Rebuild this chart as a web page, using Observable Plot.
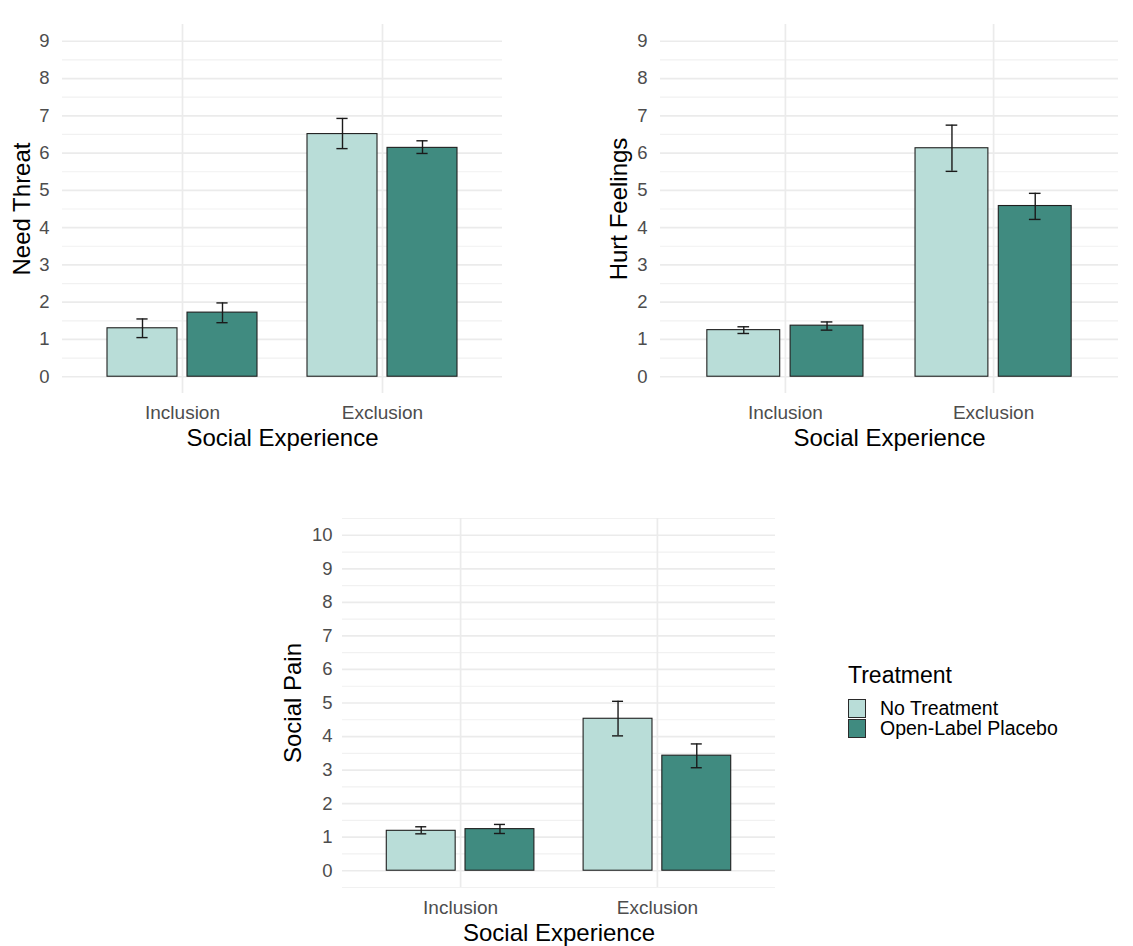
<!DOCTYPE html>
<html>
<head>
<meta charset="utf-8">
<script src="https://cdn.jsdelivr.net/npm/d3@7"></script>
<script src="https://cdn.jsdelivr.net/npm/@observablehq/plot@0.6"></script>
<style>
  html, body { margin: 0; padding: 0; background: #fff; }
  #root { position: relative; width: 1133px; height: 946px; font-family: "Liberation Sans", Arial, sans-serif; }
  .panel { position: absolute; }
  .legend { position: absolute; left: 848px; top: 661px; color: #000; }
  .legend .title { font-size: 23px; line-height: 28px; margin-bottom: 9px; }
  .legend .item { display: flex; align-items: center; height: 20px; font-size: 19.5px; line-height: 20px; }
  .legend .item span.lab { display: inline-block; height: 20px; line-height: 20px; }
  .legend .key { width: 18px; height: 19px; box-sizing: border-box; border: 1px solid #2a2a2a; margin-right: 14px; }
</style>
</head>
<body>
<div id="root"></div>
<script>
// ---- data ----
const socialExperience = ["Inclusion", "Exclusion"];
const treatments = ["No Treatment", "Open-Label Placebo"];
const treatmentColors = ["#b9ddd8", "#408b80"];

// order: Inclusion/No Treatment, Inclusion/OLP, Exclusion/No Treatment, Exclusion/OLP
const needThreatMean  = [1.30, 1.72, 6.51, 6.14];
const needThreatLower = [1.05, 1.45, 6.12, 5.99];
const needThreatUpper = [1.55, 1.98, 6.93, 6.33];

const hurtFeelingsMean  = [1.25, 1.37, 6.13, 4.58];
const hurtFeelingsLower = [1.16, 1.25, 5.51, 4.22];
const hurtFeelingsUpper = [1.34, 1.47, 6.75, 4.92];

const socialPainMean  = [1.19, 1.24, 4.53, 3.43];
const socialPainLower = [1.10, 1.11, 4.02, 3.07];
const socialPainUpper = [1.31, 1.38, 5.05, 3.78];

const ticks9 = [0, 1, 2, 3, 4, 5, 6, 7, 8, 9];
const ticks10 = [0, 1, 2, 3, 4, 5, 6, 7, 8, 9, 10];

// ---- chart ----
const DODGE = 0.4, BARW = 0.35, CAP = 0.028;

function rows(mean, lower, upper) {
  return socialExperience.flatMap((e, i) => treatments.map((t, j) => ({
    experience: e, treatment: t,
    center: i + (j - 0.5) * DODGE,
    mean: mean[i * 2 + j], lower: lower[i * 2 + j], upper: upper[i * 2 + j]
  })));
}

function panel({data, ylabel, yTicks, yDomain, width, height, margins, tickPadX, tickPadY, titleDy, ytitleDx}) {
  const minor = d3.range(Math.ceil(yDomain[0] - 0.5) + 0.5, yDomain[1] + 1e-9, 1).filter(v => v >= yDomain[0] - 1e-9);
  return Plot.plot({
    width, height,
    marginLeft: margins[0], marginRight: margins[1], marginTop: margins[2], marginBottom: margins[3],
    style: { fontFamily: "'Liberation Sans', Arial, sans-serif", fontSize: "18px", background: "white", overflow: "visible" },
    x: { type: "linear", domain: [-0.6, 1.6], label: null },
    y: { domain: yDomain, label: null },
    color: { domain: treatments, range: treatmentColors },
    marks: [
      Plot.ruleY(minor, { stroke: "#f1f1f1", strokeWidth: 1.2 }),
      Plot.ruleY(yTicks, { stroke: "#ebebeb", strokeWidth: 1.7 }),
      Plot.ruleX([0, 1], { stroke: "#ebebeb", strokeWidth: 1.7 }),
      Plot.rect(data, {
        x1: d => d.center - BARW / 2, x2: d => d.center + BARW / 2,
        y1: 0, y2: "mean", fill: "treatment", stroke: "#1f1f1f", strokeWidth: 1.1
      }),
      Plot.ruleX(data, { x: "center", y1: "lower", y2: "upper", stroke: "#1a1a1a", strokeWidth: 1.4 }),
      Plot.ruleY(data, { y: "upper", x1: d => d.center - CAP, x2: d => d.center + CAP, stroke: "#1a1a1a", strokeWidth: 1.4 }),
      Plot.ruleY(data, { y: "lower", x1: d => d.center - CAP, x2: d => d.center + CAP, stroke: "#1a1a1a", strokeWidth: 1.4 }),
      Plot.axisY({ ticks: yTicks, tickSize: 0, tickPadding: tickPadY, label: null, color: "#4d4d4d", fontSize: 18.5, tickFormat: d3.format("d") }),
      Plot.axisX({ ticks: [0, 1], tickSize: 0, tickPadding: tickPadX, label: null, color: "#4d4d4d", fontSize: 19, tickFormat: i => socialExperience[i] }),
      Plot.text(["Social Experience"], { text: d => d, frameAnchor: "bottom", dy: titleDy, fontSize: 24, fill: "#000", textAnchor: "middle", lineAnchor: "middle" }),
      Plot.text([ylabel], { text: d => d, frameAnchor: "left", dx: ytitleDx, rotate: -90, fontSize: 24, fill: "#000", textAnchor: "middle", lineAnchor: "middle" })
    ]
  });
}

const root = document.getElementById("root");
function place(el, left, top) {
  el.classList.add("panel");
  el.style.left = left + "px";
  el.style.top = top + "px";
  root.appendChild(el);
}

place(panel({
  data: rows(needThreatMean, needThreatLower, needThreatUpper), ylabel: "Need Threat",
  yTicks: ticks9, yDomain: [-0.45, 9.45], width: 560, height: 460, margins: [62, 58, 24, 67],
  tickPadX: 12, tickPadY: 13, titleDy: 45, ytitleDx: -40
}), 0, 0);

place(panel({
  data: rows(hurtFeelingsMean, hurtFeelingsLower, hurtFeelingsUpper), ylabel: "Hurt Feelings",
  yTicks: ticks9, yDomain: [-0.45, 9.45], width: 540, height: 460, margins: [70, 12, 24, 67],
  tickPadX: 12, tickPadY: 13, titleDy: 45, ytitleDx: -41
}), 590, 0);

place(panel({
  data: rows(socialPainMean, socialPainLower, socialPainUpper), ylabel: "Social Pain",
  yTicks: ticks10, yDomain: [-0.5, 10.5], width: 560, height: 446, margins: [72, 55, 18, 59],
  tickPadX: 13, tickPadY: 10, titleDy: 46, ytitleDx: -49
}), 270, 500);

// legend
const legend = document.createElement("div");
legend.className = "legend";
const lt = document.createElement("div");
lt.className = "title";
lt.textContent = "Treatment";
legend.appendChild(lt);
treatments.forEach((t, i) => {
  const item = document.createElement("div");
  item.className = "item";
  const key = document.createElement("span");
  key.className = "key";
  key.style.background = treatmentColors[i];
  const lab = document.createElement("span");
  lab.className = "lab";
  lab.textContent = t;
  item.appendChild(key);
  item.appendChild(lab);
  legend.appendChild(item);
});
root.appendChild(legend);
</script>
</body>
</html>
